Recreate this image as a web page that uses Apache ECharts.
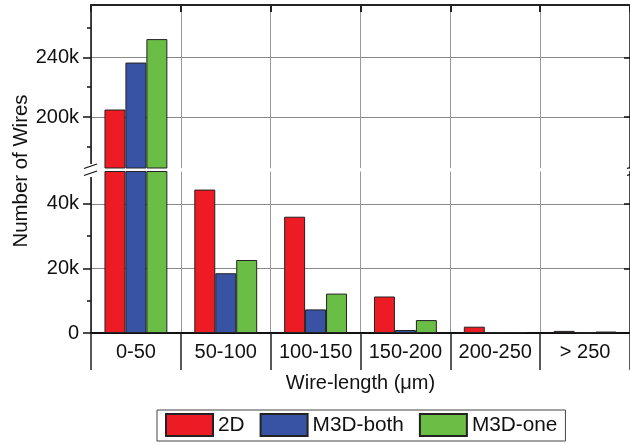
<!DOCTYPE html>
<html><head><meta charset="utf-8">
<script src="https://cdn.jsdelivr.net/npm/echarts@6/dist/echarts.min.js"></script>
<style>html,body{margin:0;padding:0;background:#fff}#c{width:630px;height:444px}</style>
</head><body><div id="c"></div>
<script>
const categories = ['0-50', '50-100', '100-150', '150-200', '200-250', '> 250'];
const s2D = [205100, 44400, 36000, 11300, 1950, 650];
const sBoth = [236500, 18500, 7300, 930, 200, 60];
const sOne = [252200, 22600, 12200, 4000, 300, 450];
const seriesNames = ['2D', 'M3D-both', 'M3D-one'];
const upperMajorTicks = [200000, 240000];
const upperMinorTicks = [180000, 220000, 260000];
const lowerMajorTicks = [0, 20000, 40000];
const lowerMinorTicks = [10000, 30000];

const colors = ['#ED1C24', '#3953A4', '#6ABD45'];
const FONT = 'Liberation Sans';
const FS = 20;
const fmt = v => v === 0 ? '0' : (v / 1000) + 'k';
const dataSets = [s2D, sBoth, sOne];

function yAxes(gridIndex, min, max, major, minor) {
  return [
    {
      gridIndex, type: 'value', min, max, position: 'left',
      axisLine: { show: true, lineStyle: { color: '#111', width: 1.5 } },
      axisTick: { show: true, customValues: major, length: 8, lineStyle: { color: '#111', width: 1.5 } },
      axisLabel: { show: true, customValues: major, formatter: fmt, fontSize: FS, fontFamily: FONT, color: '#111', margin: 12 },
      splitLine: { show: true, lineStyle: { color: '#888', width: 1 } }
    },
    {
      gridIndex, type: 'value', min, max, position: 'left',
      axisLine: { show: false },
      axisTick: { show: true, customValues: minor, length: 4, lineStyle: { color: '#111', width: 1.5 } },
      axisLabel: { show: false },
      splitLine: { show: false }
    },
    {
      gridIndex, type: 'value', min, max, position: 'right',
      axisLine: { show: true, lineStyle: { color: '#111', width: 1.5 } },
      axisTick: { show: true, inside: true, customValues: major, length: 6, lineStyle: { color: '#111', width: 1.5 } },
      axisLabel: { show: false },
      splitLine: { show: false }
    }
  ];
}

const series = [];
[0, 1].forEach(g => {
  dataSets.forEach((d, i) => {
    series.push({
      type: 'bar', name: seriesNames[i], data: d,
      xAxisIndex: g, yAxisIndex: g * 3,
      barGap: '0%', barCategoryGap: '30%',
      clip: true,
      itemStyle: { color: colors[i], borderColor: '#222', borderWidth: 1 }
    });
  });
});

const option = {
  animation: false,
  backgroundColor: '#fff',
  textStyle: { fontFamily: FONT },
  grid: [
    { left: 91, width: 543, top: 5, height: 163 },
    { left: 91, width: 543, top: 171.5, height: 161.5 }
  ],
  xAxis: [
    {
      gridIndex: 0, type: 'category', data: categories, position: 'top',
      axisLine: { show: true, lineStyle: { color: '#222', width: 2 } },
      axisTick: { show: true, inside: true, length: 7, lineStyle: { color: '#222', width: 2 } },
      axisLabel: { show: false },
      splitLine: { show: true, lineStyle: { color: '#999', width: 1 } }
    },
    {
      gridIndex: 1, type: 'category', data: categories, position: 'bottom',
      axisLine: { show: true, lineStyle: { color: '#111', width: 2 } },
      axisTick: { show: true, length: 37, lineStyle: { color: '#222', width: 1.5 } },
      axisLabel: { interval: 0, fontSize: FS, fontFamily: FONT, color: '#111', margin: 9 },
      splitLine: { show: true, lineStyle: { color: '#999', width: 1 } },
      name: 'Wire-length (μm)', nameLocation: 'middle', nameGap: 40,
      nameTextStyle: { fontSize: FS, fontFamily: FONT, color: '#111' }
    }
  ],
  yAxis: [].concat(
    yAxes(0, 166000, 275000, upperMajorTicks, upperMinorTicks),
    yAxes(1, 0, 50000, lowerMajorTicks, lowerMinorTicks)
  ),
  legend: {
    data: seriesNames, left: 157, top: 410, orient: 'horizontal',
    itemWidth: 47, itemHeight: 22, itemGap: 15, padding: [3, 8, 4, 8],
    borderColor: '#444', borderWidth: 1, icon: 'rect',
    textStyle: { fontSize: 20.8, fontFamily: FONT, color: '#111' }
  },
  graphic: [
    {
      type: 'text', x: 21, y: 171, rotation: Math.PI / 2,
      style: { text: 'Number of Wires', font: '20.4px "Liberation Sans"', fill: '#111', align: 'center', verticalAlign: 'middle' }
    },
    { type: 'rect', shape: { x: 88, y: 164, width: 7, height: 13 }, style: { fill: '#fff' }, z: 100 },
    { type: 'line', shape: { x1: 84, y1: 168.5, x2: 97, y2: 164 }, style: { stroke: '#111', lineWidth: 1.3 }, z: 101 },
    { type: 'line', shape: { x1: 84, y1: 175.5, x2: 97, y2: 171 }, style: { stroke: '#111', lineWidth: 1.3 }, z: 101 },
    { type: 'line', shape: { x1: 627, y1: 168.5, x2: 640, y2: 164 }, style: { stroke: '#111', lineWidth: 1.3 }, z: 101 },
    { type: 'line', shape: { x1: 627, y1: 175.5, x2: 640, y2: 171 }, style: { stroke: '#111', lineWidth: 1.3 }, z: 101 }
  ],
  series
};
const chart = echarts.init(document.getElementById('c'), null, { renderer: 'canvas' });
chart.setOption(option);
</script></body></html>
